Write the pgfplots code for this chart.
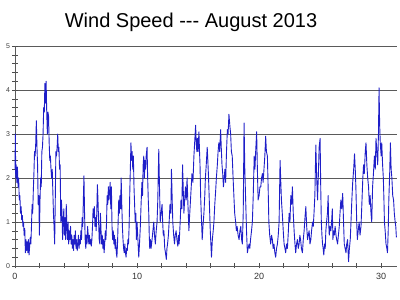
\documentclass[border=0pt]{standalone}
\usepackage{fontspec}
\setmainfont{Liberation Sans}
\newfontfamily\titlefont{Liberation Sans}
\usepackage{pgfplots}
\pgfplotsset{compat=1.18}
\definecolor{wind}{RGB}{30,30,200}
\definecolor{gridc}{RGB}{90,90,90}
\begin{document}
\begin{tikzpicture}[x=1pt,y=1pt]
\useasboundingbox (-15,-34) rectangle (385,266);
\begin{axis}[
  at={(0,0)}, anchor=south west,
  scale only axis, width=382pt, height=220pt,
  xmin=0, xmax=31.3, ymin=0, ymax=5,
  axis x line*=bottom, axis y line*=left,
  x axis line style={-,gridc}, y axis line style={-,gridc},
  xtick={0,10,20,30}, minor x tick num=4,
  ytick={0,1,2,3,4,5}, minor y tick num=4,
  tick align=center,
  major tick length=5pt, minor tick length=5pt,
  tick style={black!70, line width=0.5pt},
  ymajorgrids, major grid style={gridc, line width=0.7pt},
  /pgf/number format/assume math mode=true,
  x tick label style={font=\fontsize{9}{10}\selectfont, text=black!80, yshift=-1pt},
  y tick label style={font=\fontsize{7}{8}\selectfont, text=black!75, xshift=1pt},
  clip=false,
]
\addplot[wind, line width=0.9pt, line join=round] coordinates {
(0,2.2)(0.03,3.0)(0.06,2.0)(0.1,2.3)(0.15,1.9)(0.2,2.25)(0.25,1.8)(0.3,2.0)(0.35,1.5)(0.4,1.6)(0.45,1.2)(0.5,1.35)(0.55,1.05)(0.6,1.15)(0.65,0.9)(0.7,1.0)(0.75,0.7)(0.8,0.85)(0.85,0.3)(0.9,0.6)(0.95,0.35)(1.0,0.55)(1.05,0.3)(1.1,0.6)(1.15,0.25)(1.2,0.45)(1.25,0.65)(1.3,0.5)(1.35,0.9)(1.4,1.4)(1.45,1.2)(1.5,1.7)(1.55,2.1)(1.6,2.6)(1.65,2.5)(1.7,2.8)(1.75,3.3)(1.8,2.7)(1.85,2.3)(1.9,1.4)(1.95,1.6)(2.0,0.7)(2.05,1.5)(2.1,2.0)(2.15,1.8)(2.2,2.6)(2.25,2.7)(2.3,3.0)(2.35,3.6)(2.4,3.5)(2.45,4.15)(2.5,3.7)(2.55,4.2)(2.6,3.5)(2.65,3.0)(2.7,3.5)(2.75,3.4)(2.8,2.8)(2.85,2.4)(2.9,2.5)(2.95,2.2)(3.0,2.0)(3.05,2.2)(3.1,1.7)(3.15,1.2)(3.2,0.9)(3.25,0.5)(3.3,1.5)(3.35,2.6)(3.4,2.5)(3.45,2.7)(3.5,3.0)(3.55,2.6)(3.6,2.7)(3.65,2.2)(3.7,2.3)(3.75,1.0)(3.8,1.5)(3.85,1.2)(3.9,0.6)(3.95,1.0)
(4.0,1.3)(4.05,0.7)(4.1,1.1)(4.15,0.6)(4.2,1.4)(4.25,0.9)(4.3,0.6)(4.35,1.0)(4.4,0.5)(4.45,0.8)(4.5,0.6)(4.55,0.9)(4.6,0.5)(4.65,0.7)(4.7,0.4)(4.75,0.6)(4.8,0.35)(4.85,0.7)(4.9,0.5)(4.95,0.8)(5.0,0.4)(5.05,0.6)(5.1,0.35)(5.15,0.5)(5.2,0.7)(5.25,0.4)(5.3,0.6)(5.35,0.5)(5.4,0.8)(5.45,0.6)(5.5,1.1)(5.55,0.9)(5.6,1.5)(5.65,2.05)(5.7,1.2)(5.75,0.6)(5.8,0.4)(5.85,0.7)(5.9,0.5)(5.95,0.9)(6.0,0.7)(6.05,0.5)(6.1,0.7)(6.15,0.5)(6.2,0.6)(6.25,0.45)(6.3,0.6)(6.35,0.9)(6.4,1.3)(6.45,1.1)(6.5,1.35)(6.55,0.9)(6.6,1.1)(6.65,0.8)(6.7,1.2)(6.75,1.85)(6.8,1.5)(6.85,1.0)(6.9,0.6)(6.95,0.5)
(7.0,1.2)(7.05,0.8)(7.1,0.5)(7.15,0.7)(7.2,0.4)(7.25,0.6)(7.3,0.3)(7.35,0.5)(7.4,0.8)(7.45,0.6)(7.5,1.0)(7.55,1.6)(7.6,1.4)(7.65,1.8)(7.7,1.5)(7.75,1.7)(7.8,1.9)(7.85,1.3)(7.9,1.8)(7.95,0.9)(8.0,0.6)(8.05,0.8)(8.1,0.5)(8.15,0.7)(8.2,0.4)(8.25,0.6)(8.3,0.3)(8.35,0.2)(8.4,0.5)(8.45,1.0)(8.5,1.5)(8.55,1.2)(8.6,1.6)(8.65,1.3)(8.7,2.0)(8.75,1.4)(8.8,0.9)(8.85,0.6)(8.9,0.4)(8.95,0.3)(9.0,0.5)(9.05,0.3)(9.1,0.2)(9.15,0.4)(9.2,0.35)(9.25,0.6)(9.3,0.5)(9.35,0.9)(9.4,1.6)(9.45,2.2)(9.5,2.8)(9.55,2.4)(9.6,2.6)(9.65,2.2)(9.7,2.5)(9.75,1.8)(9.8,1.4)(9.85,1.0)(9.9,1.2)(9.95,0.6)
(10.0,1.0)(10.07,0.6)(10.14,0.2)(10.2,0.5)(10.27,0.9)(10.33,1.4)(10.4,1.9)(10.45,1.6)(10.5,2.3)(10.55,2.5)(10.6,2.0)(10.65,2.4)(10.7,2.2)(10.75,2.5)(10.82,2.7)(10.87,2.0)(10.92,1.5)(10.96,1.2)(11.0,0.7)(11.04,0.4)(11.1,0.6)(11.15,0.4)(11.23,0.6)(11.3,0.8)(11.37,1.0)(11.43,0.7)(11.5,0.5)(11.57,0.8)(11.64,1.0)(11.7,1.5)(11.78,2.65)(11.84,1.8)(11.9,1.0)(11.97,1.2)(12.05,1.4)(12.1,1.0)(12.15,0.7)(12.2,0.8)(12.27,0.4)(12.33,0.3)(12.4,0.15)(12.45,0.4)(12.5,0.5)(12.57,0.7)(12.63,1.0)(12.7,1.4)(12.77,1.2)(12.82,2.2)(12.88,1.5)(12.93,1.0)(13.0,0.7)(13.07,0.5)(13.13,0.7)(13.2,0.8)(13.27,0.6)(13.34,0.45)(13.4,0.7)(13.45,0.5)(13.5,0.8)(13.55,1.1)(13.6,1.5)(13.67,1.3)(13.73,2.3)(13.78,1.8)(13.84,1.2)(13.9,1.5)(13.97,1.8)
(14.03,1.5)(14.1,2.0)(14.17,1.4)(14.25,0.8)(14.3,1.1)(14.38,1.5)(14.44,1.8)(14.5,2.1)(14.58,1.9)(14.66,2.5)(14.72,2.8)(14.8,3.2)(14.85,2.8)(14.9,2.6)(14.95,2.9)(15.0,2.6)(15.07,3.05)(15.12,2.6)(15.16,2.3)(15.21,1.6)(15.26,1.2)(15.34,0.6)(15.4,0.9)(15.48,1.2)(15.55,1.6)(15.6,2.0)(15.67,2.3)(15.75,2.7)(15.8,2.4)(15.86,2.0)(15.93,1.4)(16.0,0.8)(16.05,0.5)(16.1,0.2)(16.17,0.6)(16.24,0.8)(16.3,1.0)(16.37,1.4)(16.44,1.7)(16.5,2.0)(16.58,2.3)(16.64,2.6)(16.7,2.8)(16.77,2.6)(16.85,3.1)(16.9,2.7)(16.96,2.3)(17.02,2.1)(17.08,1.8)(17.14,2.0)(17.2,2.2)(17.26,1.9)(17.33,2.6)(17.4,3.1)(17.46,3.0)(17.53,3.45)(17.6,3.2)(17.67,3.0)(17.73,2.6)(17.8,2.5)(17.87,2.0)(17.95,1.5)
(18.0,1.2)(18.08,1.0)(18.14,0.8)(18.2,0.9)(18.28,0.7)(18.36,0.6)(18.43,0.8)(18.5,0.9)(18.57,0.6)(18.63,0.5)(18.7,1.2)(18.77,3.25)(18.83,2.2)(18.9,1.5)(18.97,0.8)(19.04,0.3)(19.1,0.4)(19.18,0.5)(19.24,0.4)(19.3,0.6)(19.38,0.8)(19.45,1.0)(19.52,1.6)(19.6,2.5)(19.66,2.2)(19.72,2.6)(19.8,3.05)(19.86,2.2)(19.92,1.5)(20.0,1.6)(20.07,1.8)(20.14,1.8)(20.2,2.0)(20.27,2.1)
(20.33,1.9)(20.4,2.2)(20.47,2.5)(20.54,2.95)(20.6,2.6)(20.68,2.5)(20.74,1.8)(20.8,1.0)(20.87,0.7)(20.95,0.5)(21.02,0.7)(21.09,0.6)(21.15,0.4)(21.22,0.5)(21.29,0.3)(21.36,0.2)(21.43,0.4)(21.5,0.5)(21.57,0.7)(21.64,1.0)(21.72,2.4)(21.78,1.9)(21.83,1.5)(21.9,1.2)(21.94,1.0)(22.0,0.7)(22.05,0.5)(22.12,0.4)(22.18,0.3)(22.25,0.5)(22.32,0.4)(22.4,0.8)(22.46,1.2)(22.53,1.0)(22.6,1.6)(22.67,1.4)(22.73,1.8)(22.8,1.2)(22.87,0.8)(22.94,0.5)(23.0,0.3)(23.07,0.5)(23.14,0.6)(23.21,0.4)(23.28,0.5)(23.34,0.7)(23.4,0.6)(23.47,0.4)(23.55,0.3)(23.62,0.6)(23.69,0.8)(23.76,1.1)(23.83,1.35)(23.9,0.9)(23.97,0.6)
(24.03,0.7)(24.1,0.8)(24.17,0.5)(24.24,0.6)(24.3,0.8)(24.38,1.0)(24.44,0.9)(24.5,1.2)(24.57,1.6)(24.65,2.75)(24.72,2.0)(24.79,1.5)(24.86,2.1)(24.92,2.7)(25.0,2.9)(25.05,1.8)(25.1,1.0)(25.15,0.7)(25.2,0.5)(25.25,0.4)(25.3,0.25)(25.37,0.5)(25.42,0.4)(25.47,0.8)(25.53,1.0)(25.6,1.2)(25.66,1.6)(25.7,1.0)(25.75,0.7)(25.82,0.9)(25.88,0.8)(25.94,1.0)(26.0,1.3)(26.05,0.6)(26.1,0.8)(26.16,0.7)(26.23,0.9)(26.3,0.7)(26.36,0.6)(26.43,0.5)(26.5,0.7)(26.57,0.9)(26.63,1.2)(26.7,1.5)(26.77,1.3)(26.85,1.65)(26.92,1.0)(26.98,0.5)(27.05,0.4)(27.12,0.3)(27.18,0.5)(27.25,0.6)(27.3,0.3)(27.33,0.1)(27.4,0.4)(27.47,0.6)(27.53,1.0)(27.6,1.5)(27.67,1.9)(27.75,2.2)(27.82,2.55)(27.88,2.2)(27.93,1.8)
(28.0,1.0)(28.05,0.6)(28.12,0.8)(28.2,1.0)(28.27,0.7)(28.35,0.9)(28.42,1.4)(28.5,2.0)(28.56,2.3)(28.62,2.1)(28.7,2.6)(28.76,2.8)(28.83,2.3)(28.9,2.0)(28.97,1.8)(29.03,1.4)(29.1,1.6)(29.17,1.2)(29.23,1.0)(29.3,1.8)(29.37,2.1)(29.45,2.5)(29.52,2.2)(29.58,2.9)(29.65,2.6)(29.72,2.3)(29.78,3.0)(29.83,4.05)(29.88,3.2)(29.93,2.8)(30.0,2.5)(30.05,2.8)(30.12,2.3)(30.18,2.0)(30.23,1.5)(30.27,1.0)(30.33,0.8)(30.4,0.5)(30.47,0.4)(30.52,0.3)(30.58,0.8)(30.63,1.5)(30.7,2.1)(30.76,2.8)(30.82,2.2)(30.88,2.0)(30.95,1.6)(31.02,1.5)(31.08,1.2)(31.15,1.0)(31.2,0.9)(31.25,0.65)
};
\end{axis}
\node[font=\titlefont\fontsize{20}{22}\selectfont, anchor=base] at (176,238) {Wind Speed --- August 2013};
\end{tikzpicture}
\end{document}
